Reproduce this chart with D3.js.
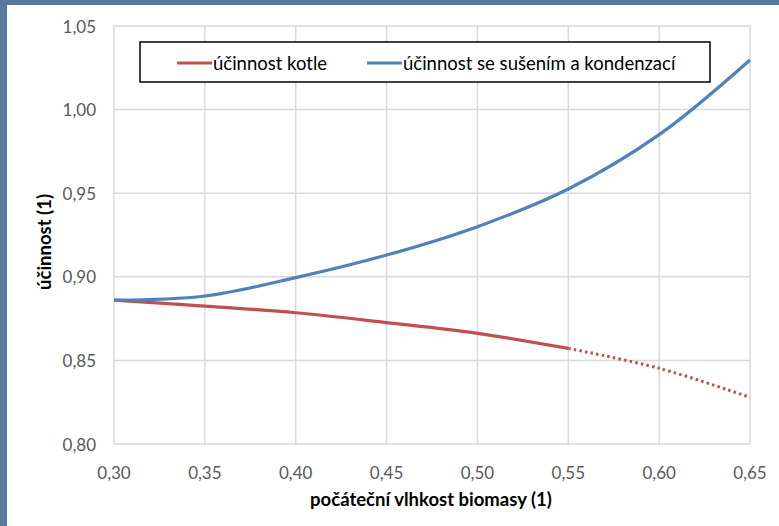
<!DOCTYPE html>
<html lang="cs">
<head>
<meta charset="UTF-8">
<script src="https://d3js.org/d3.v7.min.js"></script>
<style>
    body { margin: 0; background: #55799f; }
    svg { display: block; font-family: Lato, "Open Sans", sans-serif; }
    .grid line { stroke: #d9d9d9; stroke-width: 1.5; }
    .tick-label { fill: #595959; font-size: 17px; }
    .axis-title { fill: #000; font-size: 18.5px; font-weight: bold; }
    .legend text { font-size: 18.5px; fill: #000; }
</style>
</head>
<body>
<svg id="chart" width="779" height="526"></svg>
<script>
    // data
    const moisture = [0.30, 0.35, 0.40, 0.45, 0.50, 0.55, 0.60, 0.65];
    const boilerEff = [0.886, 0.8825, 0.8785, 0.8726, 0.8662, 0.8572, 0.8453, 0.8279];
    const dryingEff = [0.886, 0.8885, 0.8995, 0.913, 0.930, 0.9525, 0.985, 1.0297];
    const xTicks = [0.30, 0.35, 0.40, 0.45, 0.50, 0.55, 0.60, 0.65];
    const yTicks = [0.80, 0.85, 0.90, 0.95, 1.00, 1.05];
    const solidUntil = 0.55;

    const svg = d3.select("#chart");
    const fmt = d => d.toFixed(2).replace(".", ",");

    // blue slide background + white panel
    svg.append("rect").attr("width", 779).attr("height", 526).attr("fill", "#55799f");
    svg.append("rect").attr("x", 7).attr("y", 5).attr("width", 772).attr("height", 521).attr("fill", "#fff");

    const x = d3.scaleLinear().domain([0.30, 0.65]).range([114, 750]);
    const y = d3.scaleLinear().domain([0.80, 1.05]).range([444, 26]);

    // grid
    const grid = svg.append("g").attr("class", "grid");
    grid.selectAll(".v").data(xTicks).enter().append("line")
        .attr("x1", d => x(d)).attr("x2", d => x(d))
        .attr("y1", y(1.05)).attr("y2", y(0.80));
    grid.selectAll(".h").data(yTicks).enter().append("line")
        .attr("x1", x(0.30)).attr("x2", x(0.65))
        .attr("y1", d => y(d)).attr("y2", d => y(d));

    // tick labels
    svg.selectAll(".ylab").data(yTicks).enter().append("text")
        .attr("class", "tick-label")
        .attr("x", 96).attr("y", d => y(d))
        .attr("text-anchor", "end").attr("dominant-baseline", "central")
        .text(fmt);
    svg.selectAll(".xlab").data(xTicks).enter().append("text")
        .attr("class", "tick-label")
        .attr("x", d => x(d)).attr("y", 472)
        .attr("text-anchor", "middle").attr("dominant-baseline", "central")
        .text(fmt);

    // axis titles
    svg.append("text").attr("class", "axis-title")
        .attr("transform", "translate(44,242) rotate(-90)")
        .attr("text-anchor", "middle").attr("dominant-baseline", "central")
        .text("účinnost (1)");
    svg.append("text").attr("class", "axis-title")
        .attr("x", 431).attr("y", 499)
        .attr("text-anchor", "middle").attr("dominant-baseline", "central")
        .text("počáteční vlhkost biomasy (1)");

    // lines
    const line = d3.line()
        .x(d => x(d[0])).y(d => y(d[1]))
        .curve(d3.curveCatmullRom.alpha(0.5));

    const boilerPts = moisture.map((m, i) => [m, boilerEff[i]]);
    const dryingPts = moisture.map((m, i) => [m, dryingEff[i]]);

    svg.append("path")
        .datum(boilerPts.filter(d => d[0] >= solidUntil - 1e-9))
        .attr("d", line)
        .attr("fill", "none").attr("stroke", "#c0504d")
        .attr("stroke-width", 3).attr("stroke-dasharray", "2.5,3.2");
    svg.append("path")
        .datum(boilerPts.filter(d => d[0] <= solidUntil + 1e-9))
        .attr("d", line)
        .attr("fill", "none").attr("stroke", "#c0504d").attr("stroke-width", 3.2);
    svg.append("path")
        .datum(dryingPts)
        .attr("d", line)
        .attr("fill", "none").attr("stroke", "#4f81bd").attr("stroke-width", 3.2);

    // legend
    const legend = svg.append("g").attr("class", "legend");
    legend.append("rect")
        .attr("x", 140).attr("y", 42).attr("width", 570).attr("height", 40)
        .attr("fill", "#fff").attr("stroke", "#000").attr("stroke-width", 1.5);
    const items = [
        { label: "účinnost kotle", color: "#c0504d", x0: 177 },
        { label: "účinnost se sušením a kondenzací", color: "#4f81bd", x0: 367 }
    ];
    items.forEach(it => {
        legend.append("line")
            .attr("x1", it.x0).attr("x2", it.x0 + 35)
            .attr("y1", 63).attr("y2", 63)
            .attr("stroke", it.color).attr("stroke-width", 3.2);
        legend.append("text")
            .attr("x", it.x0 + 36).attr("y", 63)
            .attr("dominant-baseline", "central")
            .text(it.label);
    });
</script>
</body>
</html>
